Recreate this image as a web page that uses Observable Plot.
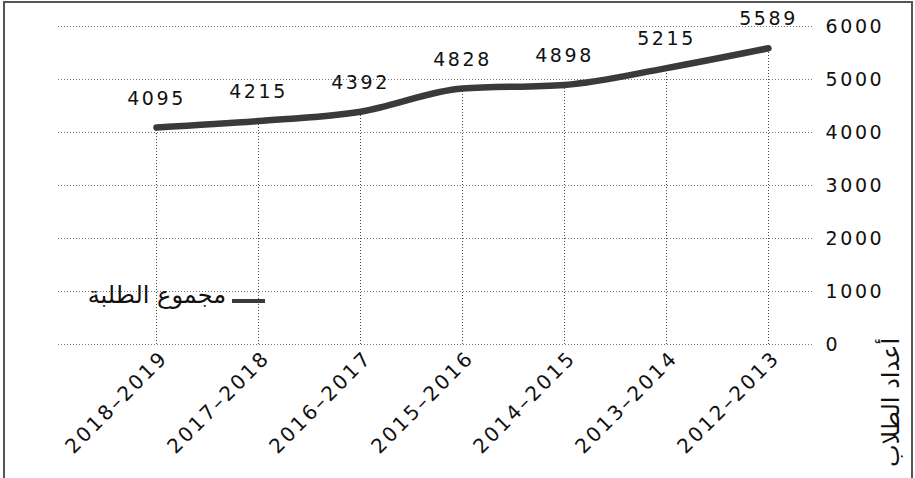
<!DOCTYPE html>
<html>
<head>
<meta charset="utf-8">
<script src="https://cdn.jsdelivr.net/npm/d3@7"></script>
<script src="https://cdn.jsdelivr.net/npm/@observablehq/plot@0.6"></script>
<style>
  html, body { margin: 0; padding: 0; background: #fff; }
  #wrap { position: relative; width: 915px; height: 478px; overflow: hidden; }
  #frame { position: absolute; left: 3px; top: 1px; width: 906px; height: 490px;
           border: 2px solid #555; pointer-events: none; }
  #legend { position: absolute; left: 0; top: 281px; width: 268px; height: 34px;
            font-family: "DejaVu Sans", sans-serif; font-size: 24px; color: #111; }
  #legend .sw { position: absolute; left: 232px; top: 18px; width: 33px; height: 4px; background: #3a3a3a; }
  #legend .lb { position: absolute; right: 42px; top: 0px; direction: rtl; white-space: nowrap; }
</style>
</head>
<body>
<div id="wrap">
  <div id="chart"></div>
  <div id="legend"><span class="lb">مجموع الطلبة</span><span class="sw"></span></div>
  <div id="frame"></div>
</div>
<script>
const years = ["2018–2019", "2017–2018", "2016–2017", "2015–2016", "2014–2015", "2013–2014", "2012–2013"];
const students = [4095, 4215, 4392, 4828, 4898, 5215, 5589];
const yTicks = [0, 1000, 2000, 3000, 4000, 5000, 6000];
const seriesName = "مجموع الطلبة";
const yTitle = "أعداد الطلاب";

const data = years.map((y, i) => ({year: y, value: students[i]}));
const font = "DejaVu Sans, sans-serif";

const chart = Plot.plot({
  width: 915,
  height: 478,
  marginTop: 26,
  marginBottom: 134,
  marginLeft: 58,
  marginRight: 103,
  style: {fontFamily: font, fontSize: "19px", color: "#111", background: "transparent"},
  x: {type: "point", domain: years, range: [156, 768], padding: 0},
  y: {domain: [0, 6000]},
  marks: [
    Plot.ruleY(yTicks, {stroke: "#777", strokeWidth: 1, strokeDasharray: "1,2"}),
    Plot.ruleX(data, {x: "year", y1: 0, y2: "value", stroke: "#444", strokeWidth: 1, strokeDasharray: "1,2"}),
    Plot.line(data, {x: "year", y: "value", stroke: "#3a3a3a", strokeWidth: 6.5, curve: "monotone-x"}),
    Plot.text(data, {x: "year", y: "value", text: d => String(d.value), dy: -29, fontSize: 19,
                     fill: "#111"}),
    Plot.axisY({anchor: "right", ticks: yTicks, tickSize: 0, tickPadding: 13, label: null,
                tickFormat: d => String(d), fontSize: 19}),
    Plot.axisX({anchor: "bottom", tickSize: 0, tickRotate: -45, tickPadding: 10, dx: 8, label: null,
                fontSize: 20}),
    Plot.text([yTitle], {frameAnchor: "bottom-right", rotate: -90, dx: 86, dy: 58, fontSize: 24,
                         fill: "#111", textAnchor: "middle"})
  ]
});
chart.querySelectorAll("text").forEach(t => {
  if (/^\d/.test(t.textContent)) t.style.letterSpacing = "2.6px";
});
document.getElementById("chart").appendChild(chart);
</script>
</body>
</html>
